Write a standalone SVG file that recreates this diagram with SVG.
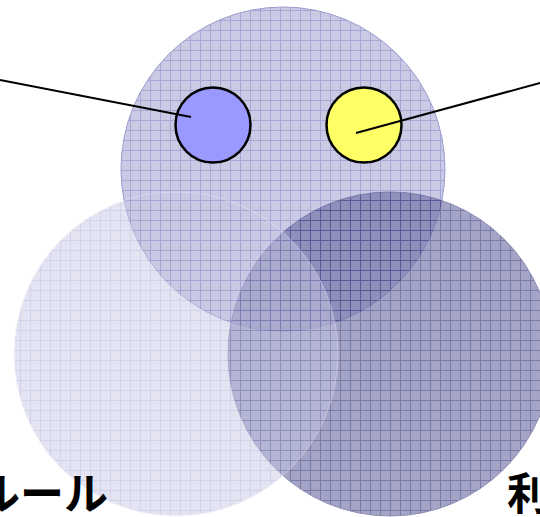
<svg xmlns="http://www.w3.org/2000/svg" width="540" height="517" viewBox="0 0 540 517">
<style>
.lbl{font-family:"Noto Sans CJK JP","Noto Sans",sans-serif;font-weight:bold;font-size:44px;fill:#000}
.ptr{stroke:#000;stroke-width:2;fill:none}
.dot{stroke:#000;stroke-width:2.5}
</style>
<defs>
<pattern id="gT" patternUnits="userSpaceOnUse" width="10" height="10">
<rect width="10" height="10" fill="#cacae4"/>
<path d="M0 0.5H10M0.5 0V10" stroke="#a8a8d6" stroke-width="1"/>
</pattern>
<pattern id="gR" patternUnits="userSpaceOnUse" width="10" height="10">
<rect width="10" height="10" fill="#6e6ea6"/>
<path d="M0 0.5H10M0.5 0V10" stroke="#2c2c74" stroke-width="1"/>
</pattern>
<pattern id="gL" patternUnits="userSpaceOnUse" width="10" height="10">
<rect width="10" height="10" fill="#c8c8e4"/>
<path d="M0 0.5H10M0.5 0V10" stroke="#a4a4d2" stroke-width="1"/>
</pattern>
</defs>
<g id="circle-top">
<circle cx="283" cy="169" r="162" fill="url(#gT)" stroke="#9c9cd0" stroke-width="1"/>
</g>
<g id="circle-right">
<circle cx="390" cy="354" r="162" fill="url(#gR)" opacity="0.62" stroke="#4a4a88" stroke-width="1"/>
</g>
<g id="circle-left">
<circle cx="176" cy="354" r="162" fill="url(#gL)" opacity="0.49" stroke="#e8e8f8" stroke-width="1"/>
</g>
<g id="dot-blue">
<circle class="dot" cx="213" cy="125" r="37.5" fill="#9999ff"/>
</g>
<g id="dot-yellow">
<circle class="dot" cx="364" cy="125" r="37.5" fill="#ffff66"/>
</g>
<g id="connectors">
<line class="ptr" x1="0" y1="80" x2="191" y2="117"/>
<line class="ptr" x1="356" y1="133" x2="540" y2="83"/>
</g>
<g id="label-left">
<text class="lbl" x="108" y="510" text-anchor="end">ルール</text>
</g>
<g id="label-right">
<text class="lbl" x="507" y="510">利</text>
</g>
</svg>
